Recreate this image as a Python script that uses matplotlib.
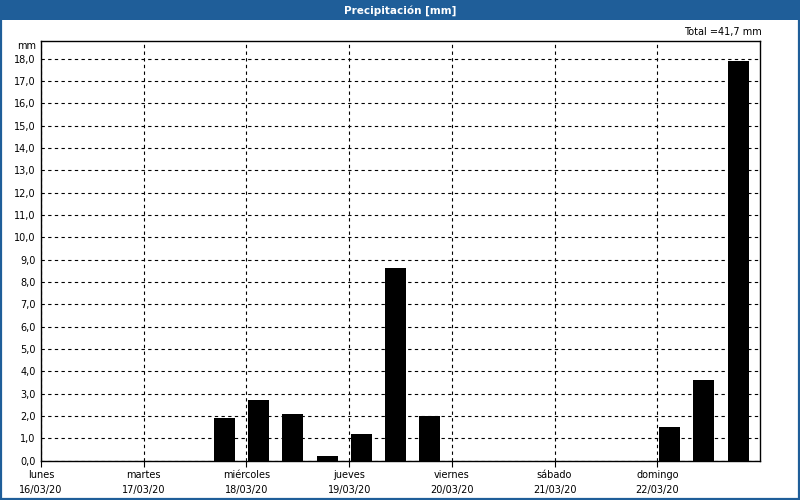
import matplotlib.pyplot as plt
from matplotlib.patches import Rectangle

# precipitation per 8-hour slot (slot start, in days from Monday 16/03/20 00:00)
slot_start = [1.667, 2.0, 2.333, 2.667, 3.0, 3.333, 3.667, 6.0, 6.333, 6.667]
rain_mm = [1.9, 2.7, 2.1, 0.2, 1.2, 8.6, 2.0, 1.5, 3.6, 17.9]

day_names = ["lunes", "martes", "miércoles", "jueves", "viernes", "sábado", "domingo"]
day_dates = ["16/03/20", "17/03/20", "18/03/20", "19/03/20", "20/03/20", "21/03/20", "22/03/20"]
y_ticks = list(range(0, 19))

blue = "#1f5e99"
fs = 7

fig = plt.figure(figsize=(8, 5), dpi=100)
fig.patch.set_facecolor("white")

# window frame and title bar
fig.patches.append(Rectangle((0, 0.96), 1, 0.04, transform=fig.transFigure,
                             facecolor=blue, edgecolor="none", zorder=0))
fig.patches.append(Rectangle((0.001, 0.002), 0.998, 0.996, transform=fig.transFigure,
                             facecolor="none", edgecolor=blue, lw=1.6, zorder=0))
fig.text(0.5, 0.979, "Precipitación [mm]", color="white", fontsize=7.5,
         fontweight="bold", ha="center", va="center")

ax = fig.add_axes([41 / 800, 39.5 / 500, 719 / 800, 419.8 / 500])
ax.bar([s + 0.017 for s in slot_start], rain_mm, width=0.205, align="edge",
       color="black", zorder=3)

ax.set_xlim(0, 7)
ax.set_ylim(0, 18.8)
ax.set_xticks(range(7))
ax.set_xticklabels([f"{n}\n{d}" for n, d in zip(day_names, day_dates)],
                   fontsize=fs, linespacing=1.55)
ax.set_yticks(y_ticks)
ax.set_yticklabels([f"{v:.1f}".replace(".", ",") for v in y_ticks], fontsize=fs)
ax.tick_params(axis="y", length=0, pad=4)
ax.tick_params(axis="x", length=4, width=0.8, pad=3, direction="out")
ax.grid(True, color="black", linestyle=(0, (3, 3)), linewidth=0.8, zorder=1)
for sp in ax.spines.values():
    sp.set_linewidth(1.0)
    sp.set_zorder(4)

fig.text(36 / 800, 1 - 46 / 500, "mm", fontsize=fs, ha="right", va="center")
fig.text(762 / 800, 1 - 32.5 / 500, "Total =41,7 mm", fontsize=fs, ha="right", va="center")

fig.savefig("out.png", dpi=100)
